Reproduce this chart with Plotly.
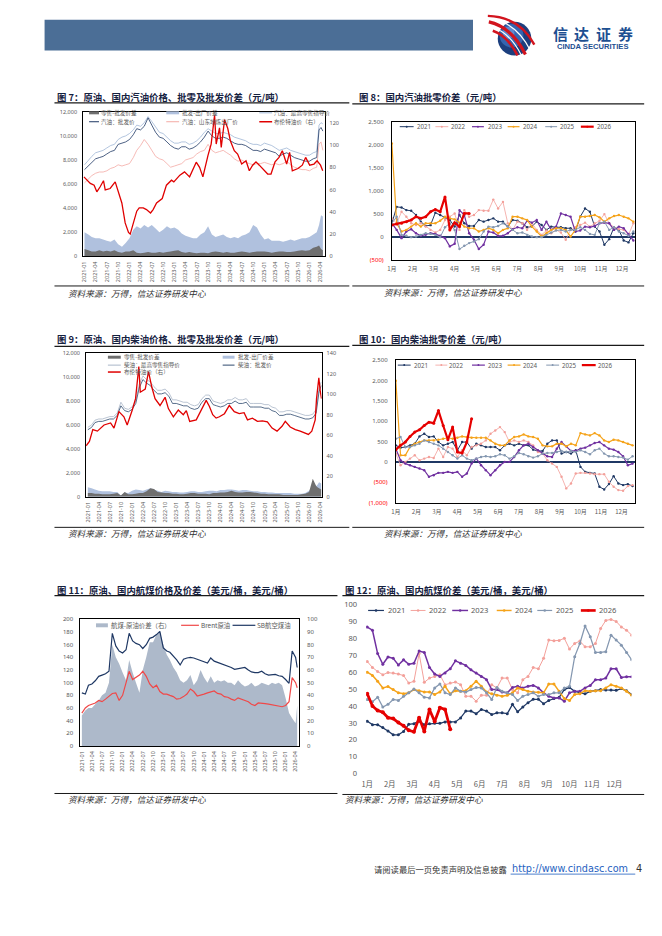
import plotly.graph_objects as go

W, H = 662, 936


def fx(x):
    return x / W


def fy(y):
    return 1 - y / H


def monthly(y, m, n):
    out = []
    for _ in range(n):
        out.append(f"{y}-{m:02d}-01")
        m += 1
        if m > 12:
            m = 1
            y += 1
    return out


# ---------------------------------------------------------------- data
MONTHS63 = monthly(2021, 1, 63)
MONTH_LABELS = ['1月', '2月', '3月', '4月', '5月', '6月', '7月', '8月', '9月', '10月', '11月', '12月']

# Chart 7 : gasoline
dates7 = MONTHS63 + ['2026-03-20', '2026-04-05', '2026-04-20']
gas_retail_guide = [7600, 8000, 8300, 8600, 8700, 8800, 9000, 9200, 9300, 9700, 9900, 10000,
                    10200, 10500, 10900, 10800, 11100, 11600, 11200, 10700, 10300, 10200, 9900, 9600,
                    9400, 9400, 9500, 9500, 9300, 9400, 9600, 9900, 10300, 10600, 10400, 10200,
                    10200, 10300, 10200, 10100, 9900, 9800, 9700, 9600, 9400, 9300, 9300, 9200,
                    9400, 9300, 9200, 9000, 8800, 8900, 9000, 8800, 8700, 8600, 8500, 8400,
                    8400, 8600, 8700, 10900, 11100, 11000]
gas_wholesale = [7200, 7500, 7800, 8100, 8200, 8300, 8500, 8700, 8800, 9300, 9400, 9500,
                 9700, 10100, 10600, 10500, 10800, 11500, 10900, 10300, 9900, 9800, 9500, 9200,
                 9000, 8900, 9100, 9100, 8900, 9000, 9200, 9500, 9900, 10400, 10000, 9800,
                 9800, 9900, 9800, 9600, 9400, 9300, 9300, 9200, 9000, 8800, 8800, 8700,
                 8900, 8800, 8700, 8600, 8300, 8500, 8600, 8400, 8200, 8100, 8000, 7900,
                 7900, 8100, 8200, 10500, 10700, 10400]
gas_shandong = [6100, 6400, 6700, 6900, 7000, 7000, 7100, 7300, 7400, 7600, 7500, 7600,
                7700, 8200, 8800, 9200, 9700, 9300, 8800, 8300, 8100, 8000, 7700, 7400,
                7500, 7600, 7700, 8000, 8100, 8200, 8500, 8700, 8800, 9300, 8800, 8600,
                8700, 8800, 8600, 8400, 8100, 7900, 8000, 7800, 7700, 7600, 7700, 7700,
                7800, 7700, 7600, 7700, 7600, 7700, 7900, 7600, 7400, 7300, 7200, 7200,
                7100, 7300, 7400, 9300, 9500, 8800]
gas_wholesale_exfactory = [2000, 1800, 1600, 1500, 1500, 1400, 1300, 1200, 1400, 1000, 800, 1100,
                           1500, 2200, 2500, 2300, 2600, 2400, 2600, 2300, 2000, 2200, 2500, 2300,
                           2400, 2200, 1900, 1700, 1600, 1500, 1500, 1800, 2000, 2500, 1800, 1600,
                           1700, 1800, 1600, 1500, 1600, 1500, 1700, 1800, 2000, 2600, 2400, 1800,
                           1400, 1500, 1300, 1300, 1300, 1200, 1300, 1400, 1300, 1400, 1500, 1500,
                           1600, 1800, 2000, 2600, 3400, 3300]
gas_retail_wholesale = [600, 500, 400, 400, 500, 400, 450, 400, 500, 350, 300, 400,
                        400, 500, 300, 250, 300, 350, 300, 300, 350, 300, 350, 400,
                        450, 500, 350, 300, 350, 300, 250, 300, 300, 250, 350, 400,
                        350, 300, 350, 300, 300, 350, 400, 350, 300, 350, 400, 400,
                        400, 350, 300, 350, 400, 400, 350, 350, 400, 450, 500, 450,
                        500, 700, 800, 900, 600, 500]
brent7_dates = ['2020-12-27', '2021-01-22', '2021-02-17', '2021-03-20', '2021-04-11', '2021-05-08',
                '2021-06-04', '2021-06-18', '2021-07-28', '2021-09-07', '2021-10-04', '2021-10-31',
                '2021-11-27', '2021-12-24', '2022-01-07', '2022-02-03', '2022-03-01', '2022-03-21',
                '2022-04-23', '2022-05-19', '2022-06-21', '2022-07-12', '2022-08-09', '2022-09-24',
                '2022-10-28', '2022-12-08', '2022-12-27', '2023-02-14', '2023-03-24', '2023-05-04',
                '2023-06-27', '2023-07-24', '2023-08-20', '2023-09-30', '2023-10-26', '2023-11-23',
                '2023-12-06', '2024-01-02', '2024-01-16', '2024-02-12', '2024-03-09', '2024-03-30',
                '2024-05-01', '2024-05-28', '2024-06-30', '2024-08-04', '2024-08-31', '2024-09-27',
                '2024-10-24', '2024-11-20', '2024-12-31', '2025-01-27', '2025-02-23', '2025-03-28',
                '2025-04-29', '2025-05-26', '2025-06-30', '2025-07-24', '2025-08-15', '2025-09-30',
                '2025-11-04', '2025-12-01', '2026-01-03', '2026-02-07', '2026-03-04', '2026-04-01',
                '2026-04-19']
brent7 = [71.5, 68.5, 65.6, 64, 58, 62.6, 68, 59.7, 61, 67,
          56.8, 48, 30, 21.5, 20, 30, 40.6, 43.5, 43.5, 42,
          39, 42, 48, 52, 64, 68.5, 67, 73, 76, 71.5,
          84.7, 80, 71.5, 90.6, 101, 127, 101, 115.6, 98, 123,
          115, 104, 95, 92, 83, 86, 77, 82, 85, 82,
          77, 74, 74, 85, 89, 95, 83, 93.5, 77, 79,
          82, 89, 82, 83, 86, 82, 77]

# Chart 8 : gasoline wholesale-retail spread, weekly
gas_spread = {
    '2021': [300, 657, 643, 586, 571, 479, 336, 243, 260, 529, 479, 429, 371, 229, 479, 300, 243, 243, 371, 336,
             371, 407, 336, 336, 229, 371, 357, 300, 214, 229, 336, 264, 157, 229, 214, 214, 193, 193, 121, 443,
             621, 550, 229, 121, -164, -43, 214, 157, -71, -114, 86],
    '2022': [407, 300, 550, 443, 300, 264, 300, 229, 157, 100, 157, 371, 443, 514, 157, 586, 443, 479, 586, 571,
             571, 814, 621, 764, 300, 157, 336, 300, 157, 300, 157, 50, 143, 86, 157, 100, -57, 157, 214, 264,
             314, 229, 300, 357, 500, 300, 214, 171, 157, 50, 300],
    '2023': [300, 157, -21, 121, 171, 86, 29, 50, 86, 71, 29, -21, -200, -143, 586, 479, 86, -57, -257, -164,
             121, 100, 29, 29, 86, 171, 214, 193, 357, 314, 371, 157, 336, 157, 229, 514, 479, 443, 121, 143,
             229, 214, 243, 300, 314, 300, 157, 229, 193, 71, -71],
    '2024': [2028, 300, 121, 157, 229, 300, 229, 300, 300, 300, 357, 443, 407, 386, 314, 229, 193, 193, 121, 157,
             193, 157, 86, 157, 193, 443, 443, 407, 371, 229, 121, 14, 86, 157, 193, 193, 157, 14, 157, 443,
             443, 457, 479, 429, 336, 407, 457, 479, 443, 407, 336],
    '2025': [300, 443, 50, 29, 0, 14, 50, 86, 71, 50, 0, 214, 300, 157, -257, -186, -129, -93, -43, 121,
             229, 214, 243, 300, 229, 157, 86, 100, 50, 14, 0, 0, 50, 100, 143, 157, 121, 157, 157, 214,
             157, 71, 50, 300, 336, 157, 214, 121, 86, 29, 121],
    '2026': [264, 286, 300, 336, 371, 443, 407, 443, 550, 600, 550, 871, 157, 314, 229, 514, 514],
}

# Chart 9 : diesel
dates9 = MONTHS63 + ['2026-03-12', '2026-03-25', '2026-04-12']
dsl_retail_guide = [5800, 6000, 6400, 6500, 6500, 6600, 6700, 6700, 7000, 7900, 7400, 7300,
                    7500, 8000, 9400, 10100, 9800, 9600, 9200, 8900, 8900, 9000, 8700, 8100,
                    8100, 8000, 7900, 7900, 7700, 7600, 7700, 8200, 8500, 8500, 8000, 7900,
                    7800, 7900, 8100, 8100, 8300, 8100, 8100, 8200, 7800, 7800, 7800, 7800,
                    7700, 7700, 7500, 7400, 7100, 7100, 7200, 7200, 7100, 7000, 6900, 6800,
                    6800, 6900, 7300, 8000, 9100, 9600]
dsl_wholesale = [5600, 5800, 6200, 6300, 6300, 6400, 6500, 6500, 6800, 7600, 7200, 7100,
                 7300, 7800, 9100, 9800, 9500, 9300, 8900, 8600, 8600, 8700, 8400, 7800,
                 7800, 7700, 7600, 7600, 7400, 7300, 7400, 7900, 8200, 8200, 7700, 7600,
                 7500, 7600, 7800, 7800, 8000, 7800, 7800, 7900, 7500, 7500, 7500, 7500,
                 7400, 7400, 7200, 7100, 6800, 6800, 6900, 6900, 6800, 6700, 6600, 6500,
                 6500, 6600, 7000, 7700, 8800, 9300]
dsl_wholesale_exfactory = [800, 700, 600, 500, 450, 450, 450, 400, 400, 100, 350, 300,
                           500, 600, 550, 500, 600, 700, 600, 500, 400, 500, 450, 400,
                           400, 350, 350, 400, 450, 450, 400, 400, 450, 500, 500, 450,
                           550, 550, 600, 600, 550, 500, 550, 550, 500, 450, 450, 400,
                           400, 350, 350, 300, 300, 300, 300, 300, 250, 250, 250, 300,
                           500, 800, 900, 1000, 1200, 1100]
dsl_retail_wholesale = [300, 300, 250, 250, 200, 200, 200, 250, 300, 100, 400, 200,
                        200, 250, 300, 300, 450, 700, 650, 400, 350, 300, 300, 250,
                        250, 200, 200, 250, 300, 300, 250, 250, 250, 200, 300, 300,
                        350, 350, 400, 500, 400, 350, 350, 400, 400, 350, 300, 250,
                        250, 200, 200, 200, 200, 150, 150, 150, 150, 150, 200, 250,
                        400, 1500, 900, 800, 700, 600]
brent9_dates = ['2020-12-18', '2021-01-14', '2021-02-11', '2021-03-21', '2021-05-15', '2021-07-08',
                '2021-08-05', '2021-09-15', '2021-10-26', '2021-11-22', '2022-01-03', '2022-01-30',
                '2022-02-26', '2022-03-10', '2022-04-20', '2022-05-17', '2022-06-13', '2022-07-10',
                '2022-08-20', '2022-10-01', '2022-10-28', '2022-12-08', '2023-01-18', '2023-02-28',
                '2023-03-25', '2023-04-22', '2023-06-15', '2023-07-26', '2023-09-05', '2023-10-02',
                '2023-10-29', '2023-11-26', '2023-12-23', '2024-02-03', '2024-03-14', '2024-04-24',
                '2024-06-04', '2024-07-14', '2024-08-11', '2024-09-21', '2024-11-01', '2024-12-12',
                '2025-01-22', '2025-03-02', '2025-04-12', '2025-05-23', '2025-06-19', '2025-07-30',
                '2025-09-10', '2025-10-20', '2025-12-01', '2025-12-27', '2026-01-24', '2026-02-21',
                '2026-03-04', '2026-03-23', '2026-04-03', '2026-04-14']
brent9 = [49.7, 54, 65.5, 64, 70, 72, 67, 83, 78, 70,
          84.6, 95.7, 127, 102, 105, 122, 107, 95.7, 89, 97,
          86, 78, 84.6, 80, 84, 73.5, 75, 84.6, 94, 88,
          80, 76.7, 78, 81, 89, 83, 81, 82, 75, 76.7,
          73.5, 74, 73, 67, 64, 68.7, 73.5, 68, 65.5, 64,
          62.4, 60.8, 64, 75, 95.7, 116, 103.6, 95.7]

# Chart 10 : diesel wholesale-retail spread, weekly
dsl_spread = {
    '2021': [407, 350, 366, 407, 448, 627, 692, 611, 627, 488, 407, 448, 488, 285, 488, 488, 326, 448, 407, 366,
             366, 366, 285, 407, 448, 407, 448, 407, 407, 301, 269, 269, 448, 529, 529, 204, 244, 204, 285, -122,
             -244, -269, -285, -611, -676, -545, -350, -529, -570, -545, -594],
    '2022': [204, -81, 0, 81, 163, 41, 81, 122, 98, 326, 122, 366, 326, 122, 285, 163, 366, 407, 448, 529,
             692, 773, 855, 733, 488, 529, 488, 529, 488, 407, 244, 204, 41, -41, -122, -366, -651, -529, -285, -269,
             -269, -285, -301, -301, -301, -488, -611, -692, -708, -594, -570],
    '2023': [326, 41, -41, -81, -122, -163, -204, -366, -326, -269, -269, -244, -269, -244, -366, -285, -41, 81, -81, -204,
             -326, -204, -81, 0, 0, 122, 285, 407, 448, 366, 285, 204, 138, 122, 326, 488, 383, 269, 269, 326,
             350, 407, 464, 488, 407, 326, 301, 244, 138, -81, -41],
    '2024': [1994, 163, 163, 366, 448, 488, 529, 529, 529, 545, 570, 594, 570, 594, 627, 611, 594, 594, 594, 594,
             529, 448, 407, 407, 529, 611, 627, 676, 627, 611, 570, 407, 383, 383, 448, 448, 383, 448, 407, 708,
             676, 651, 708, 651, 529, 488, 545, 529, 488, 448, 407],
    '2025': [570, 611, 366, 366, 407, 448, 529, 488, 448, 407, 326, 244, 163, 81, 163, 81, 41, 81, 122, 138,
             122, 138, 187, 163, 81, 138, 220, 187, 138, 106, 138, 204, 220, 220, 244, 269, 244, 269, 244, 285,
             244, 187, 285, 326, 204, 138, 138, 122, 106, 57, 138],
    '2026': [301, 407, 488, 627, 733, 790, 895, 977, 952, 1262, 895, 545, 855, 244, 220, 488, 1058],
}

# Chart 11 : jet fuel (USD/bbl)
dates11 = monthly(2021, 1, 64) + ['2026-04-15']
jet_sb = [84, 82, 96, 98, 103, 110, 112, 114, 118, 178, 158, 150, 147, 152, 178, 166, 162, 160, 154, 160,
          170, 172, 176, 181, 155, 150, 148, 142, 136, 128, 137, 139, 140, 139, 137, 135, 133, 131, 139, 134,
          132, 130, 129, 126, 124, 121, 122, 123, 124, 120, 117, 116, 116, 118, 114, 112, 113, 113, 111, 110,
          105, 99, 150, 140, 124]
brent11 = [52, 60, 64, 66, 68, 72, 70, 74, 78, 83, 84, 72, 80, 98, 118, 105, 108, 112, 118, 110,
           98, 92, 96, 86, 82, 82, 80, 78, 74, 75, 78, 82, 90, 86, 79, 80, 82, 84, 85, 87,
           83, 82, 78, 77, 74, 72, 76, 74, 72, 70, 66, 64, 68, 68, 67, 66, 65, 64, 62, 62,
           64, 70, 108, 100, 92]
jet_crack = [24, 28, 30, 30, 33, 36, 40, 42, 50, 80, 70, 65, 58, 52, 68, 58, 50, 42, 60, 70,
             82, 82, 88, 90, 80, 72, 68, 62, 58, 52, 50, 52, 56, 48, 52, 60, 54, 50, 55, 50,
             52, 51, 52, 50, 50, 48, 52, 49, 47, 48, 50, 47, 48, 50, 49, 48, 50, 49, 50, 48,
             38, 26, 22, 18, 32]

# Chart 12 : jet fuel crack by year, weekly
jet_spread = {
    '2021': [31, 29, 29, 27.3, 25.3, 23, 23, 25, 29.2, 29.6, 31, 29, 29.6, 29.8, 29.8, 30.6, 30.6, 30.6, 33, 37,
             37, 35.5, 38, 37, 35, 36, 36, 35.5, 41, 36.6, 39.4, 42, 44, 44, 41.3, 43.3, 44.4, 45.2, 49.7, 51,
             48.7, 47.8, 47.2, 48.7, 49, 49.7, 49.5, 49.5, 49.3, 50.3, 49, 46.8],
    '2022': [66.3, 62.8, 60.4, 58.5, 59.8, 59.5, 58.9, 58, 53.6, 54.6, 71, 54, 56.5, 57.5, 58.5, 52.6, 53.6, 54.2, 52.6, 45.8,
             45.8, 42.9, 46.4, 46.4, 52.6, 50.7, 56.5, 56.5, 49.7, 47.8, 55.6, 57.5, 62.8, 62, 68.2, 79, 78.6, 78.8, 80, 73.7,
             77, 78.4, 75, 75, 77, 85.8, 90.6, 91.2, 90, 86.7, 84.8, 81.9],
    '2023': [86.7, 84.8, 71, 64.7, 69, 68.2, 64.3, 67.3, 64.7, 65.3, 72.5, 71.7, 62.8, 58.9, 57.5, 59.5, 62, 66.7, 65.3, 64,
             61.4, 59.5, 57.5, 55.6, 49.7, 49.7, 48.3, 47.8, 51, 51.7, 50.7, 51.7, 52.2, 50.7, 47.8, 45.8, 44.8, 44.8, 42.9, 47.8,
             48.7, 48.7, 50.7, 52.2, 55.6, 55.6, 56.5, 62, 62, 56.9, 57.3, 57.3],
    '2024': [60, 58.1, 54.6, 50.7, 51.5, 49.7, 47.8, 47.2, 47.8, 49.7, 49.1, 48.3, 48.3, 46.8, 48.3, 51.7, 47.2, 49.1, 48.7, 49.1,
             51.7, 54.6, 51.7, 48.3, 47.2, 46.4, 45.8, 46.4, 47.8, 50.7, 49.7, 48.7, 48.3, 48.1, 47.8, 53, 53, 48.7, 44.4, 43.3,
             46.8, 47.2, 49.1, 48.7, 49.1, 49.1, 50.7, 52.6, 51.7, 50.7, 48.7, 46.4],
    '2025': [43.9, 42.5, 45.2, 39.4, 41, 43.9, 43.3, 45.8, 47.8, 50.1, 47.8, 45.2, 44.8, 50.7, 53, 47.8, 46.8, 50.7, 48.7, 48.3,
             49.7, 51, 50.7, 47.8, 43.9, 51, 48.7, 47.8, 46.8, 43.3, 45.8, 46.8, 47.8, 45.8, 46.8, 46.8, 47.8, 47.8, 50.7, 51.7,
             69.2, 77, 87.3, 80.9, 71.7, 71.7, 72.1, 81.9, 79, 76, 71.7, 67.3],
    '2026': [47.2, 40, 37.4, 36.3, 33.1, 32.6, 30.2, 28.3, 25.7, 24.8, 33.1, 25, 38, 30.8, 39, 38, 26.3],
}

YEARS = ['2021', '2022', '2023', '2024', '2025', '2026']
# ---------------------------------------------------------------- styles
NAVY = '#1f3864'
TITLE_C = '#15213f'
TICK_C = '#595959'
FONT = 'Noto Sans CJK SC'
NUMF = 'Noto Sans, Noto Sans CJK SC'
YEAR_STYLE = {
    '2021': ('#1f3864', 1.0),
    '2022': ('#f3a09a', 0.8),
    '2023': ('#7030a0', 1.2),
    '2024': ('#f5a31a', 1.2),
    '2025': ('#8497b0', 1.0),
    '2026': ('#e60000', 2.2),
}


def weeks(vals):
    return [i * 12 / 52 for i in range(len(vals))]


fig = go.Figure()

# ----- chart 7
fig.add_trace(go.Scatter(x=dates7, y=gas_wholesale_exfactory, mode='none', fill='tozeroy',
                         fillcolor='#b0c1de', xaxis='x', yaxis='y'))
fig.add_trace(go.Scatter(x=dates7, y=gas_retail_wholesale, mode='none', fill='tozeroy',
                         fillcolor='#6f6f6f', xaxis='x', yaxis='y'))
fig.add_trace(go.Scatter(x=dates7, y=gas_retail_guide, mode='lines', line=dict(color='#9fb6d6', width=0.8),
                         xaxis='x', yaxis='y'))
fig.add_trace(go.Scatter(x=dates7, y=gas_shandong, mode='lines', line=dict(color='#f4aaa4', width=0.8),
                         xaxis='x', yaxis='y'))
fig.add_trace(go.Scatter(x=dates7, y=gas_wholesale, mode='lines', line=dict(color=NAVY, width=0.8),
                         xaxis='x', yaxis='y'))
fig.add_trace(go.Scatter(x=brent7_dates, y=brent7, mode='lines', line=dict(color='#e00000', width=1.3),
                         xaxis='x', yaxis='y2'))

# ----- chart 8
for yr in YEARS:
    c, w = YEAR_STYLE[yr]
    v = gas_spread[yr]
    fig.add_trace(go.Scatter(x=weeks(v), y=v, mode='lines+markers', line=dict(color=c, width=w),
                             marker=dict(size=2.4 if yr != '2026' else 3, color=c), xaxis='x2', yaxis='y3'))

# ----- chart 9
fig.add_trace(go.Scatter(x=dates9, y=dsl_wholesale_exfactory, mode='none', fill='tozeroy',
                         fillcolor='#b0c1de', xaxis='x3', yaxis='y4'))
fig.add_trace(go.Scatter(x=dates9, y=dsl_retail_wholesale, mode='none', fill='tozeroy',
                         fillcolor='#6f6f6f', xaxis='x3', yaxis='y4'))
fig.add_trace(go.Scatter(x=dates9, y=dsl_retail_guide, mode='lines', line=dict(color='#a9b6c8', width=0.8),
                         xaxis='x3', yaxis='y4'))
fig.add_trace(go.Scatter(x=dates9, y=dsl_wholesale, mode='lines', line=dict(color='#2f4a6e', width=0.8),
                         xaxis='x3', yaxis='y4'))
fig.add_trace(go.Scatter(x=brent9_dates, y=brent9, mode='lines', line=dict(color='#e00000', width=1.3),
                         xaxis='x3', yaxis='y5'))

# ----- chart 10
for yr in YEARS:
    c, w = YEAR_STYLE[yr]
    v = dsl_spread[yr]
    fig.add_trace(go.Scatter(x=weeks(v), y=v, mode='lines+markers', line=dict(color=c, width=w),
                             marker=dict(size=2.4 if yr != '2026' else 3, color=c), xaxis='x4', yaxis='y6'))

# ----- chart 11 (area on primary right axis, lines on overlaying left axis)
fig.add_trace(go.Scatter(x=dates11, y=jet_crack, mode='none', fill='tozeroy', fillcolor='#adb9ca',
                         xaxis='x5', yaxis='y7'))
fig.add_trace(go.Scatter(x=dates11, y=brent11, mode='lines', line=dict(color='#f04848', width=1.2),
                         xaxis='x5', yaxis='y8'))
fig.add_trace(go.Scatter(x=dates11, y=jet_sb, mode='lines', line=dict(color=NAVY, width=1.2),
                         xaxis='x5', yaxis='y8'))

# ----- chart 12
for yr in YEARS:
    c, w = YEAR_STYLE[yr]
    v = jet_spread[yr]
    fig.add_trace(go.Scatter(x=weeks(v), y=v, mode='lines+markers', line=dict(color=c, width=w * 1.25),
                             marker=dict(size=3 if yr != '2026' else 4, color=c), xaxis='x6', yaxis='y9'))

fig.update_traces(showlegend=False, hoverinfo='skip')

# ---------------------------------------------------------------- axes
tickf = dict(family=NUMF, size=5.5, color=TICK_C)
frame = dict(showline=True, linecolor='black', linewidth=1, mirror=True, showgrid=False, zeroline=False, ticks='')
date_ax = dict(type='date', tickformat='%Y-%m', dtick='M3', tick0='2021-01-01', tickangle=-90,
               tickfont=tickf, ticklabelstandoff=2)


def red(s):
    return f"<span style='color:#ff0000'>{s}</span>"


layout_axes = dict(
    xaxis=dict(domain=[fx(79), fx(323)], anchor='y', range=['2020-12-21', '2026-05-04'], **date_ax, **frame),
    yaxis=dict(domain=[fy(254), fy(108)], anchor='x', range=[0, 12000], dtick=2000, tickformat=',',
               tickfont=tickf, ticklabelstandoff=4, **frame),
    yaxis2=dict(overlaying='y', side='right', anchor='x', range=[0, 130], tickvals=[0, 20, 40, 60, 80, 100, 120],
                tickfont=tickf, showgrid=False, zeroline=False, showline=False, ticks='', ticklabelstandoff=4),

    xaxis2=dict(domain=[fx(391), fx(637)], anchor='y3', range=[0, 11.63], tickvals=list(range(12)),
                ticktext=MONTH_LABELS, tickfont=dict(family=FONT, size=6, color=TICK_C), ticklabelstandoff=3, **frame),
    yaxis3=dict(domain=[fy(258), fy(118)], anchor='x2', range=[-500, 2500],
                tickvals=[-500, 0, 500, 1000, 1500, 2000, 2500],
                ticktext=[red('(500)'), '0', '500', '1,000', '1,500', '2,000', '2,500'],
                tickfont=dict(family=NUMF, size=6, color=TICK_C), ticklabelstandoff=6,
                showline=True, linecolor='black', linewidth=1, mirror=True, showgrid=False, ticks='',
                zeroline=True, zerolinecolor=NAVY, zerolinewidth=1.4),

    xaxis3=dict(domain=[fx(82), fx(320)], anchor='y4', range=['2020-12-18', '2026-04-15'], **date_ax, **frame),
    yaxis4=dict(domain=[fy(497), fy(352)], anchor='x3', range=[0, 12000], dtick=2000, tickformat=',',
                tickfont=tickf, ticklabelstandoff=4, **frame),
    yaxis5=dict(overlaying='y4', side='right', anchor='x3', range=[0, 140], dtick=20,
                tickfont=tickf, showgrid=False, zeroline=False, showline=False, ticks='', ticklabelstandoff=4),

    xaxis4=dict(domain=[fx(395), fx(637)], anchor='y6', range=[0, 11.67], tickvals=list(range(12)),
                ticktext=MONTH_LABELS, tickfont=dict(family=FONT, size=6, color=TICK_C), ticklabelstandoff=3, **frame),
    yaxis6=dict(domain=[fy(503), fy(359)], anchor='x4', range=[-1000, 2500],
                tickvals=[-1000, -500, 0, 500, 1000, 1500, 2000, 2500],
                ticktext=[red('(1,000)'), red('(500)'), '0', '500', '1,000', '1,500', '2,000', '2,500'],
                tickfont=dict(family=NUMF, size=6, color=TICK_C), ticklabelstandoff=6,
                showline=True, linecolor='black', linewidth=1, mirror=True, showgrid=False, ticks='',
                zeroline=True, zerolinecolor=NAVY, zerolinewidth=1.4),

    xaxis5=dict(domain=[fx(76), fx(297)], anchor='y7', range=['2020-12-17', '2026-04-30'], **date_ax, **frame),
    yaxis7=dict(domain=[fy(749), fy(621)], anchor='x5', side='right', range=[0, 100], dtick=10,
                tickfont=dict(family=NUMF, size=6, color=TICK_C), ticklabelstandoff=6, **frame),
    yaxis8=dict(overlaying='y7', side='left', anchor='x5', range=[0, 200], dtick=20,
                tickfont=dict(family=NUMF, size=6, color=TICK_C), showgrid=False, zeroline=False,
                showline=False, ticks='', ticklabelstandoff=6),

    xaxis6=dict(domain=[fx(365), fx(633)], anchor='y9', range=[-0.05, 11.75], tickvals=list(range(12)),
                ticktext=MONTH_LABELS, tickfont=dict(family=FONT, size=7.5, color=TICK_C), ticklabelstandoff=5,
                showline=False, showgrid=False, zeroline=False, ticks=''),
    yaxis9=dict(domain=[fy(777), fy(606)], anchor='x6', range=[0, 100], dtick=10,
                tickfont=dict(family=NUMF, size=7.5, color=TICK_C), ticklabelstandoff=8,
                showline=False, showgrid=False, zeroline=False, ticks=''),
)

# ---------------------------------------------------------------- decorations
shapes = []
annots = []


def hline(x0, x1, y, color, width=1):
    shapes.append(dict(type='line', xref='paper', yref='paper', x0=fx(x0), x1=fx(x1), y0=fy(y), y1=fy(y),
                       line=dict(color=color, width=width)))


def rect(x0, x1, y0, y1, color):
    shapes.append(dict(type='rect', xref='paper', yref='paper', x0=fx(x0), x1=fx(x1), y0=fy(y1), y1=fy(y0),
                       fillcolor=color, line=dict(width=0)))


def dot(x, y, r, color):
    shapes.append(dict(type='circle', xref='paper', yref='paper', x0=fx(x - r), x1=fx(x + r),
                       y0=fy(y + r), y1=fy(y - r), fillcolor=color, line=dict(width=0)))


def text(x, y, s, size, color=TICK_C, anchor='left', family=FONT):
    annots.append(dict(xref='paper', yref='paper', x=fx(x), y=fy(y), text=s, showarrow=False,
                       xanchor=anchor, yanchor='middle', font=dict(family=family, size=size, color=color),
                       borderpad=0))


# header
rect(40, 473, 15, 46, '#4b6e96')
dot(515, 34, 17, '#1c3f7e')
dot(512, 31, 12, '#3565b0')
dot(509, 28, 6, '#5d8ad0')


def qpath(p0, c, p1, color, width):
    s = f"M {fx(p0[0])},{fy(p0[1])} Q {fx(c[0])},{fy(c[1])} {fx(p1[0])},{fy(p1[1])}"
    shapes.append(dict(type='path', xref='paper', yref='paper', path=s, line=dict(color=color, width=width)))


qpath((489, 17), (512, 22), (526, 50), '#d2141e', 3.2)
qpath((491, 22), (510, 27), (522, 51), '#ffffff', 1.2)
qpath((493, 26), (508, 31), (518, 51), '#d2141e', 2.6)
qpath((487, 13), (516, 16), (531, 46), '#ffffff', 1.2)
qpath((488, 11), (520, 12), (535, 40), '#d2141e', 2.4)
for i, ch in enumerate('信达证券'):
    text(561 + i * 22, 29, f'<b>{ch}</b>', 15, '#1d4f91', anchor='center')
text(594, 41.5, '<b>CINDA SECURITIES</b>', 7.6, '#1d4f91', anchor='center', family='Liberation Sans')

# titles & rules
titles = [
    (52, 93, '图 7：原油、国内汽油价格、批零及批发价差（元/吨）', 50, 348, 99),
    (357, 93, '图 8：国内汽油批零价差（元/吨）', 351, 646, 100),
    (52, 338, '图 9：原油、国内柴油价格、批零及批发价差（元/吨）', 50, 348, 345),
    (357, 338, '图 10：国内柴油批零价差（元/吨）', 351, 646, 344),
    (52, 591, '图 11：原油、国内航煤价格及价差（美元/桶，美元/桶）', 50, 336, 597),
    (343, 591, '图 12：原油、国内航煤价差（美元/桶，美元/桶）', 341, 646, 597),
]
for x, y, s, l0, l1, ly in titles:
    text(x, y, f'<b>{s}</b>', 9.4, TITLE_C)
    hline(l0, l1, ly, '#1a1a1a', 1.2)

src = '<i>资料来源：万得，信达证券研发中心</i>'
for x, y, l0, l1, ly in [(63, 291, 50, 348, 284), (382, 290, 351, 646, 284),
                         (63, 533.5, 50, 348, 528), (382, 533.5, 351, 646, 528),
                         (63, 803, 50, 336, 797), (343, 803, 341, 646, 798)]:
    hline(l0, l1, ly, '#1a1a1a', 1)
    text(x, y, src, 8.6, '#333333')

# chart 7 legend
LS = 5.6
rect(85, 95, 107.5, 110.5, '#6f6f6f'); text(96, 109, '零售-批发价差', LS)
rect(163, 176, 107.5, 110.5, '#b0c1de'); text(178, 109, '批发-出厂价差', LS)
hline(257, 270, 109, '#9fb6d6', 1); text(271, 109, '汽油：最高零售指导价', LS)
hline(85, 95, 118, NAVY, 1); text(96, 118, '汽油：批发价', LS)
hline(163, 176, 118, '#f4aaa4', 1); text(178, 118, '汽油：山东地炼出厂价', LS)
hline(257, 270, 118, '#e00000', 1.5); text(271, 118, '布伦特油价（右）', LS)

# chart 9 legend
rect(104, 117, 354.5, 357.5, '#6f6f6f'); text(119, 356, '零售-批发价差', LS)
rect(220, 232, 354.5, 357.5, '#b0c1de'); text(234, 356, '批发-出厂价差', LS)
hline(104, 117, 364, '#a9b6c8', 1); text(119, 364, '柴油：最高零售指导价', LS)
hline(220, 232, 364, '#2f4a6e', 1); text(234, 364, '柴油：批发价', LS)
hline(104, 117, 371, '#e00000', 1.5); text(119, 371, '布伦特油价（右）', LS)

# chart 11 legend
rect(92, 104, 625, 629, '#adb9ca'); text(106, 627, '航煤-原油价差（右）', 6.4)
hline(178, 196, 627, '#f04848', 1.2); text(197, 627, 'Brent原油', 6.4)
hline(230, 253, 627, NAVY, 1.2); text(254, 627, 'SB航空煤油', 6.4)


def year_legend(y, items, size, r):
    for yr, (l0, l1, tx) in zip(YEARS, items):
        c, w = YEAR_STYLE[yr]
        hline(l0, l1, y, c, w * (1.2 if size > 7 else 1))
        dot((l0 + l1) / 2, y, r, c)
        text(tx, y, yr, size, TICK_C, family=NUMF)


year_legend(123, [(399, 413, 415), (435, 448, 450), (472, 484, 487), (508, 520, 523), (546, 558, 560),
                  (582, 595, 597)], 6.2, 1.0)
year_legend(364, [(397, 410, 412), (435, 447, 448), (472, 485, 487), (508, 521, 523), (547, 560, 562),
                  (583, 597, 598)], 6.2, 1.0)
year_legend(612, [(367, 383, 386), (410, 425, 428), (452, 468, 470), (497, 512, 514), (538, 553, 556),
                  (582, 597, 599)], 7.6, 1.3)

# footer
text(508, 873, '请阅读最后一页免责声明及信息披露', 8.3, '#333333', anchor='right')
text(511, 873, 'http://www.cindasc.com', 9.7, '#1f5fbf', family='DejaVu Sans')
text(637, 873, '4', 9.7, '#333333', family='DejaVu Sans')
hline(511, 637, 878.5, '#1f5fbf', 0.8)

fig.update_layout(
    width=W, height=H, margin=dict(l=0, r=0, t=0, b=0),
    paper_bgcolor='white', plot_bgcolor='rgba(0,0,0,0)',
    showlegend=False, shapes=shapes, annotations=annots,
    font=dict(family=FONT, color=TICK_C),
    **layout_axes,
)

fig.write_html('out.html', config={'displayModeBar': False, 'staticPlot': True},
               post_script="document.body.style.margin='0px';document.body.style.overflow='hidden';")
